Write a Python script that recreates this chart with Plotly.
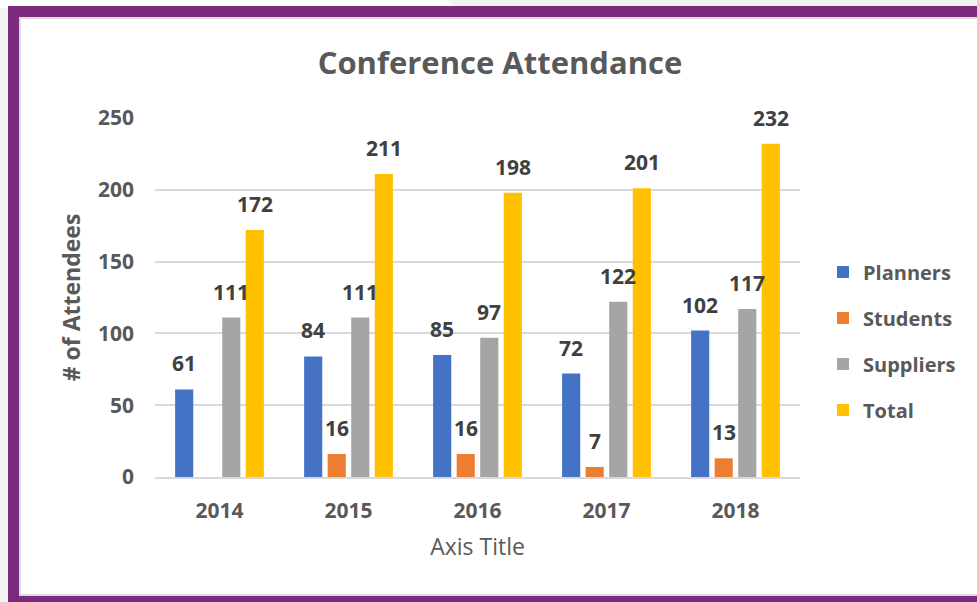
import plotly.graph_objects as go

years = ["2014", "2015", "2016", "2017", "2018"]
planners = [61, 84, 85, 72, 102]
students = [None, 16, 16, 7, 13]
suppliers = [111, 111, 97, 122, 117]
total = [172, 211, 198, 201, 232]

series = [
    ("Planners", planners, "#4472C4"),
    ("Students", students, "#ED7D31"),
    ("Suppliers", suppliers, "#A5A5A5"),
    ("Total", total, "#FFC000"),
]

W, H = 977, 602
L, R, T, B = 155, 177, 118, 125
PW = W - L - R
PH = H - T - B
BARGAP = 0.27
GROUPGAP = 0.23
FONT = "Open Sans"

def px_x(p):
    return (p - L) / PW

def px_y(p):
    return (H - B - p) / PH

fig = go.Figure()
for i, (name, vals, col) in enumerate(series):
    fig.add_trace(go.Bar(
        name=name, x=years, y=vals, marker_color=col,
        marker_line_width=0, legendgroup=name,
    ))

# data labels as annotations shifted to each bar slot
slot = PW / len(years) * (1 - BARGAP) / len(series)
for i, (name, vals, col) in enumerate(series):
    for j, v in enumerate(vals):
        if v is None:
            continue
        fig.add_annotation(
            x=j, y=v, text=str(v), showarrow=False,
            xshift=(i - (len(series) - 1) / 2) * slot, yshift=10,
            yanchor="bottom",
            font=dict(family=FONT, size=21, color="#404040", weight="bold"),
        )

purple = "#7B2B7D"
shapes = [
    dict(type="rect", xref="paper", yref="paper", x0=px_x(-10), x1=px_x(W + 10),
         y0=px_y(-10), y1=px_y(H + 10), fillcolor="#F2F2F2", line_width=0, layer="below"),
    dict(type="path", xref="paper", yref="paper",
         path=f"M {px_x(-10)},{px_y(-10)} L {px_x(436)},{px_y(-10)} L {px_x(456)},{px_y(8)} L {px_x(-10)},{px_y(8)} Z",
         fillcolor="white", line_width=0, layer="below"),
    dict(type="rect", xref="paper", yref="paper", x0=px_x(8), x1=px_x(W + 10),
         y0=px_y(H + 10), y1=px_y(6), fillcolor=purple, line_width=0, layer="below"),
    dict(type="rect", xref="paper", yref="paper", x0=px_x(19), x1=px_x(W + 10),
         y0=px_y(596), y1=px_y(17), fillcolor="#DCDCDC", line_width=0, layer="below"),
    dict(type="rect", xref="paper", yref="paper", x0=px_x(21), x1=px_x(W + 10),
         y0=px_y(594), y1=px_y(19), fillcolor="white", line_width=0, layer="below"),
]

fig.update_layout(
    width=W, height=H,
    margin=dict(l=L, r=R, t=T, b=B, autoexpand=False),
    paper_bgcolor="white",
    plot_bgcolor="rgba(0,0,0,0)",
    barmode="group", bargap=BARGAP, bargroupgap=GROUPGAP,
    shapes=shapes,
    title=dict(text="Conference Attendance", xref="container", x=500 / W, xanchor="center",
               y=1 - 63 / H, yanchor="middle",
               font=dict(family=FONT, size=31, color="#595959", weight="bold")),
    legend=dict(x=px_x(823), xanchor="left", y=px_y(341), yanchor="middle",
                font=dict(family=FONT, size=20, color="#595959", weight="bold"),
                tracegroupgap=17, bgcolor="rgba(0,0,0,0)"),
    showlegend=True,
)
fig.update_yaxes(
    range=[0, 250], dtick=50, showgrid=True, gridcolor="#D9D9D9", gridwidth=1.5,
    zeroline=False, showline=False,
    tickfont=dict(family=FONT, size=21, color="#595959", weight="bold"),
    ticklabelstandoff=20,
    title=dict(text="# of Attendees", standoff=10,
               font=dict(family=FONT, size=23, color="#595959", weight="bold")),
)
fig.update_xaxes(
    type="category", range=[-0.5, len(years) - 0.5],
    showline=True, linecolor="#D9D9D9", linewidth=1.5, showgrid=False,
    tickfont=dict(family=FONT, size=21, color="#595959", weight="bold"),
    ticklabelstandoff=14,
    title=dict(text="Axis Title", standoff=16,
               font=dict(family=FONT, size=23, color="#595959")),
)

fig.write_html("out.html", config={"displayModeBar": False},
               post_script="document.body.style.margin='0';")
